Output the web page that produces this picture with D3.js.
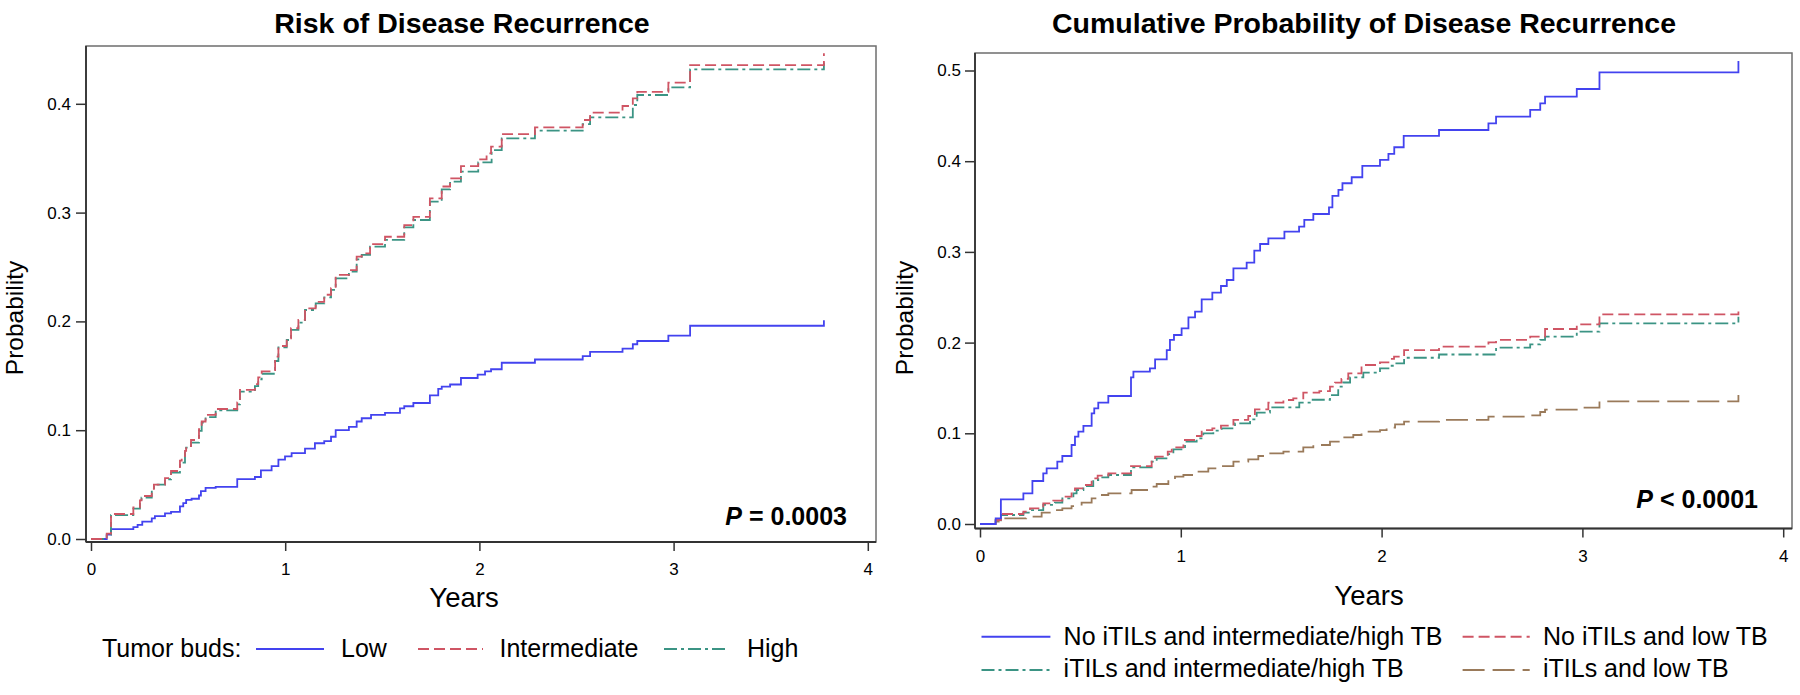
<!DOCTYPE html>
<html><head><meta charset="utf-8">
<script src="https://cdn.jsdelivr.net/npm/d3@7"></script>
<style>
body{margin:0;background:#fff}
svg{display:block}
text{font-family:"Liberation Sans",Arial,Helvetica,sans-serif;fill:#000}
</style>
</head><body>
<svg id="c" width="1800" height="695"></svg>
<script>
// ---------------- DATA ----------------
const xTicks = [0, 1, 2, 3, 4];
const leftYTicks = [0, 0.1, 0.2, 0.3, 0.4];
const rightYTicks = [0, 0.1, 0.2, 0.3, 0.4, 0.5];

const leftTitle = "Risk of Disease Recurrence";
const rightTitle = "Cumulative Probability of Disease Recurrence";
const leftPText = ["P", " = 0.0003"];
const rightPText = ["P", " < 0.0001"];
const leftLegendTitle = "Tumor buds:";
const leftNames = ["Low", "Intermediate", "High"];
const rightNames = ["No iTILs and intermediate/high TB", "No iTILs and low TB",
                    "iTILs and intermediate/high TB", "iTILs and low TB"];

// Left panel: [years, probability]
const lowSteps = [[0,0],[0.081,0.004],[0.103,0.009],[0.218,0.011],[0.240,0.013],[0.264,0.016],[0.313,0.019],[0.329,0.021],[0.381,0.0235],[0.412,0.025],[0.458,0.030],[0.475,0.033],[0.490,0.036],[0.518,0.037],[0.556,0.040],[0.566,0.044],[0.590,0.047],[0.642,0.048],[0.753,0.055],[0.844,0.057],[0.875,0.063],[0.930,0.067],[0.965,0.073],[0.999,0.076],[1.033,0.079],[1.102,0.083],[1.153,0.088],[1.201,0.090],[1.236,0.094],[1.260,0.100],[1.328,0.103],[1.368,0.108],[1.394,0.111],[1.442,0.114],[1.514,0.116],[1.591,0.120],[1.613,0.122],[1.660,0.125],[1.745,0.132],[1.788,0.138],[1.806,0.140],[1.849,0.142],[1.905,0.148],[1.991,0.151],[2.029,0.154],[2.060,0.156],[2.115,0.162],[2.286,0.165],[2.532,0.168],[2.570,0.172],[2.737,0.175],[2.790,0.179],[2.813,0.182],[2.973,0.187],[3.085,0.196],[3.774,0.201]];

const intermediateSteps = [[0,0],[0.081,0.005],[0.103,0.023],[0.218,0.029],[0.252,0.0355],[0.260,0.0395],[0.313,0.046],[0.324,0.050],[0.381,0.056],[0.412,0.0625],[0.458,0.072],[0.467,0.075],[0.484,0.081],[0.490,0.0855],[0.515,0.091],[0.556,0.101],[0.570,0.108],[0.590,0.114],[0.642,0.1195],[0.753,0.1256],[0.767,0.137],[0.844,0.1424],[0.861,0.1485],[0.879,0.154],[0.948,0.1676],[0.965,0.1774],[1.008,0.1845],[1.030,0.1937],[1.068,0.2014],[1.102,0.212],[1.157,0.218],[1.201,0.2245],[1.236,0.2305],[1.260,0.2427],[1.328,0.2472],[1.368,0.2595],[1.394,0.2625],[1.437,0.271],[1.514,0.2778],[1.613,0.2885],[1.660,0.296],[1.745,0.313],[1.806,0.324],[1.849,0.3315],[1.905,0.3428],[1.994,0.349],[2.037,0.3544],[2.060,0.3606],[2.115,0.3722],[2.286,0.3784],[2.532,0.3851],[2.570,0.3918],[2.737,0.398],[2.790,0.4049],[2.813,0.411],[2.973,0.4194],[3.085,0.4356],[3.774,0.4464]];

const highSteps = [[0,0],[0.081,0.004],[0.103,0.022],[0.218,0.028],[0.252,0.034],[0.260,0.038],[0.313,0.0444],[0.324,0.0499],[0.381,0.0549],[0.412,0.061],[0.458,0.0702],[0.484,0.0794],[0.490,0.084],[0.515,0.0885],[0.556,0.0993],[0.570,0.1069],[0.590,0.112],[0.642,0.1183],[0.753,0.1238],[0.767,0.1354],[0.844,0.1406],[0.861,0.1467],[0.879,0.1519],[0.948,0.1636],[0.965,0.1761],[1.008,0.1829],[1.030,0.1922],[1.068,0.1989],[1.102,0.2105],[1.157,0.2166],[1.201,0.2221],[1.236,0.2289],[1.260,0.2396],[1.328,0.2457],[1.368,0.2571],[1.394,0.2611],[1.437,0.2688],[1.514,0.2749],[1.613,0.2865],[1.660,0.2932],[1.745,0.3101],[1.806,0.3214],[1.849,0.3284],[1.905,0.3376],[1.994,0.3461],[2.063,0.3575],[2.115,0.3683],[2.286,0.3753],[2.532,0.3814],[2.570,0.3876],[2.790,0.3989],[2.813,0.4081],[2.973,0.4151],[3.085,0.4317],[3.774,0.438]];

// Right panel: [years, probability]
const noItilsHighSteps = [[0,0],[0.078,0.0063],[0.104,0.0272],[0.216,0.0338],[0.261,0.0474],[0.315,0.0558],[0.332,0.0614],[0.385,0.0687],[0.410,0.075],[0.456,0.0871],[0.473,0.0963],[0.490,0.1018],[0.515,0.1081],[0.556,0.122],[0.569,0.1275],[0.589,0.1338],[0.639,0.1411],[0.752,0.1617],[0.764,0.168],[0.846,0.1716],[0.872,0.1815],[0.930,0.1918],[0.946,0.2029],[0.966,0.2084],[1.004,0.2157],[1.038,0.2278],[1.071,0.2341],[1.104,0.2477],[1.157,0.255],[1.200,0.2624],[1.229,0.269],[1.262,0.2819],[1.328,0.2881],[1.366,0.3014],[1.395,0.3087],[1.436,0.315],[1.516,0.3223],[1.589,0.3278],[1.615,0.3352],[1.660,0.3418],[1.738,0.3492],[1.755,0.3617],[1.785,0.3683],[1.805,0.3757],[1.851,0.3823],[1.904,0.3948],[1.992,0.4014],[2.034,0.408],[2.063,0.4154],[2.110,0.428],[2.286,0.4344],[2.532,0.4418],[2.570,0.4491],[2.740,0.4565],[2.790,0.4638],[2.814,0.4712],[2.972,0.4796],[3.085,0.498],[3.777,0.5104]];

const noItilsLowSteps = [[0,0],[0.078,0.0044],[0.104,0.011],[0.216,0.0136],[0.249,0.0173],[0.315,0.0228],[0.365,0.0257],[0.410,0.0301],[0.456,0.0356],[0.473,0.0393],[0.510,0.043],[0.556,0.0503],[0.586,0.0533],[0.639,0.0559],[0.752,0.0639],[0.855,0.0705],[0.872,0.0742],[0.935,0.0797],[0.955,0.0845],[1.013,0.0926],[1.071,0.097],[1.104,0.1036],[1.157,0.1055],[1.200,0.1084],[1.262,0.1147],[1.336,0.1191],[1.369,0.1264],[1.436,0.1338],[1.511,0.1367],[1.560,0.1385],[1.610,0.1448],[1.690,0.1466],[1.743,0.1514],[1.768,0.1558],[1.800,0.160],[1.834,0.1661],[1.900,0.1753],[1.992,0.1783],[2.034,0.182],[2.062,0.1845],[2.112,0.1918],[2.286,0.1955],[2.532,0.2003],[2.570,0.2029],[2.740,0.2066],[2.814,0.215],[2.972,0.2202],[3.085,0.2312],[3.777,0.2378]];

const itilsHighSteps = [[0,0],[0.078,0.004],[0.104,0.0099],[0.216,0.0125],[0.249,0.0154],[0.315,0.021],[0.373,0.0235],[0.410,0.0283],[0.465,0.0338],[0.481,0.0375],[0.515,0.0419],[0.564,0.0485],[0.589,0.0514],[0.639,0.054],[0.752,0.0625],[0.855,0.0687],[0.880,0.0724],[0.938,0.0771],[0.963,0.0823],[1.021,0.0908],[1.079,0.0944],[1.112,0.0999],[1.162,0.1029],[1.204,0.1055],[1.270,0.111],[1.345,0.1154],[1.378,0.1228],[1.444,0.1286],[1.590,0.1338],[1.650,0.137],[1.743,0.1422],[1.784,0.1514],[1.809,0.156],[1.843,0.1617],[1.909,0.1668],[1.992,0.1715],[2.034,0.1745],[2.062,0.177],[2.112,0.1833],[2.286,0.1869],[2.570,0.1944],[2.740,0.198],[2.790,0.2029],[2.814,0.2066],[2.972,0.2121],[3.085,0.2213],[3.777,0.2286]];

const itilsLowSteps = [[0,0],[0.078,0.0026],[0.104,0.0062],[0.230,0.0081],[0.307,0.0125],[0.373,0.0154],[0.410,0.0173],[0.456,0.0198],[0.506,0.0235],[0.556,0.0283],[0.598,0.032],[0.639,0.0338],[0.755,0.0375],[0.846,0.0412],[0.880,0.0441],[0.938,0.0485],[0.971,0.0522],[1.013,0.054],[1.071,0.0577],[1.137,0.0614],[1.204,0.0639],[1.262,0.0687],[1.336,0.0713],[1.386,0.075],[1.436,0.0779],[1.511,0.0797],[1.610,0.0845],[1.660,0.0871],[1.743,0.0908],[1.800,0.0955],[1.859,0.0981],[1.900,0.1018],[1.992,0.1036],[2.025,0.1062],[2.067,0.1099],[2.112,0.1128],[2.286,0.1147],[2.532,0.1184],[2.740,0.1198],[2.790,0.1235],[2.814,0.1261],[2.996,0.1283],[3.085,0.1353],[3.777,0.1422]];

// ---------------- STYLES ----------------
const styles = {
  blue:  {color: "#4343ef", dash: null},
  red:   {color: "#cf5564", dash: "11,5"},
  green: {color: "#3b9484", dash: "13,4,3,4"},
  brown: {color: "#9a7a5a", dash: "22,8"}
};
const FRAME = "#6e6e6e";

const svg = d3.select("#c");

function panel(cfg) {
  const x = d3.scaleLinear().domain([0, 4]).range(cfg.xRange);
  const y = d3.scaleLinear().domain([0, cfg.yMax]).range(cfg.yRange);
  const g = svg.append("g");
  const [L, T, R, B] = cfg.frame;

  // series
  const line = d3.line().x(d => x(d[0])).y(d => y(d[1])).curve(d3.curveStepAfter);
  cfg.series.forEach(s => {
    const st = styles[s.style];
    g.append("path").datum(s.data)
      .attr("d", line)
      .attr("fill", "none")
      .attr("stroke", st.color)
      .attr("stroke-width", 1.8)
      .attr("stroke-dasharray", st.dash);
  });

  // frame
  g.append("rect").attr("x", L).attr("y", T).attr("width", R - L).attr("height", B - T)
    .attr("fill", "none").attr("stroke", FRAME).attr("stroke-width", 1.5);
  g.append("line").attr("x1", L).attr("x2", R).attr("y1", B).attr("y2", B)
    .attr("stroke", "#333").attr("stroke-width", 2);
  g.append("line").attr("x1", L).attr("x2", L).attr("y1", T).attr("y2", B)
    .attr("stroke", "#333").attr("stroke-width", 1.8);

  // x axis
  const xa = g.append("g").attr("transform", `translate(0,${B})`)
    .call(d3.axisBottom(x).tickValues(xTicks).tickFormat(d3.format("d")).tickSize(9).tickPadding(12));
  xa.select(".domain").remove();
  xa.selectAll("line").attr("stroke", "#333").attr("stroke-width", 1.5);
  xa.selectAll("text").attr("font-size", 17).attr("fill", "#000")
    .attr("font-family", '"Liberation Sans",Arial,sans-serif');

  // y axis
  const ya = g.append("g").attr("transform", `translate(${L},0)`)
    .call(d3.axisLeft(y).tickValues(cfg.yTicks).tickFormat(d3.format(".1f")).tickSize(10).tickPadding(cfg.yPad));
  ya.select(".domain").remove();
  ya.selectAll("line").attr("stroke", "#333").attr("stroke-width", 1.5);
  ya.selectAll("text").attr("font-size", 17).attr("fill", "#000")
    .attr("font-family", '"Liberation Sans",Arial,sans-serif');

  // title
  g.append("text").attr("x", cfg.titleX).attr("y", 33).attr("text-anchor", "middle")
    .attr("font-size", 28.5).attr("font-weight", "bold").text(cfg.title);

  // axis labels
  g.append("text").attr("x", cfg.yearsX).attr("y", cfg.yearsY).attr("text-anchor", "middle")
    .attr("font-size", 27.5).text("Years");
  g.append("text").attr("transform", `translate(${cfg.probX},318) rotate(-90)`)
    .attr("text-anchor", "middle").attr("font-size", 24.5).text("Probability");

  // P value
  const pt = g.append("text").attr("x", cfg.pX).attr("y", cfg.pY).attr("text-anchor", "end")
    .attr("font-size", 25).attr("font-weight", "bold");
  pt.append("tspan").attr("font-style", "italic").text(cfg.pText[0]);
  pt.append("tspan").text(cfg.pText[1]);
  return g;
}

panel({
  xRange: [91, 867.8], yMax: 0.4, yRange: [539, 103.8], yTicks: leftYTicks, yPad: 5,
  frame: [86, 46, 876, 542],
  series: [
    {data: lowSteps, style: "blue"},
    {data: highSteps, style: "green"},
    {data: intermediateSteps, style: "red"}
  ],
  title: leftTitle, titleX: 462, yearsX: 464, yearsY: 607, probX: 23,
  pText: leftPText, pX: 847, pY: 525
});

panel({
  xRange: [980, 1783.2], yMax: 0.5, yRange: [524, 70.5], yTicks: rightYTicks, yPad: 4,
  frame: [975, 53, 1792, 528.5],
  series: [
    {data: itilsLowSteps, style: "brown"},
    {data: itilsHighSteps, style: "green"},
    {data: noItilsLowSteps, style: "red"},
    {data: noItilsHighSteps, style: "blue"}
  ],
  title: rightTitle, titleX: 1364, yearsX: 1369, yearsY: 605, probX: 913,
  pText: rightPText, pX: 1758, pY: 508
});

// ---------------- LEGENDS ----------------
function legendItem(x1, x2, ly, styleKey, tx, ty, label) {
  const st = styles[styleKey];
  svg.append("line").attr("x1", x1).attr("x2", x2).attr("y1", ly).attr("y2", ly)
    .attr("stroke", st.color).attr("stroke-width", 2).attr("stroke-dasharray", st.dash);
  svg.append("text").attr("x", tx).attr("y", ty).attr("font-size", 25).text(label);
}
svg.append("text").attr("x", 102).attr("y", 657).attr("font-size", 25).text(leftLegendTitle);
legendItem(256, 324, 649, "blue", 341, 657, leftNames[0]);
legendItem(418, 483, 649, "red", 499.5, 657, leftNames[1]);
legendItem(664, 729, 649, "green", 747, 657, leftNames[2]);

legendItem(981.5, 1050.4, 636.7, "blue", 1063.6, 645, rightNames[0]);
legendItem(1462.6, 1529.7, 636.7, "red", 1543, 645, rightNames[1]);
legendItem(981.5, 1050.4, 670, "green", 1063.6, 677, rightNames[2]);
legendItem(1462.6, 1529.7, 670, "brown", 1543, 677, rightNames[3]);
</script>
</body></html>
